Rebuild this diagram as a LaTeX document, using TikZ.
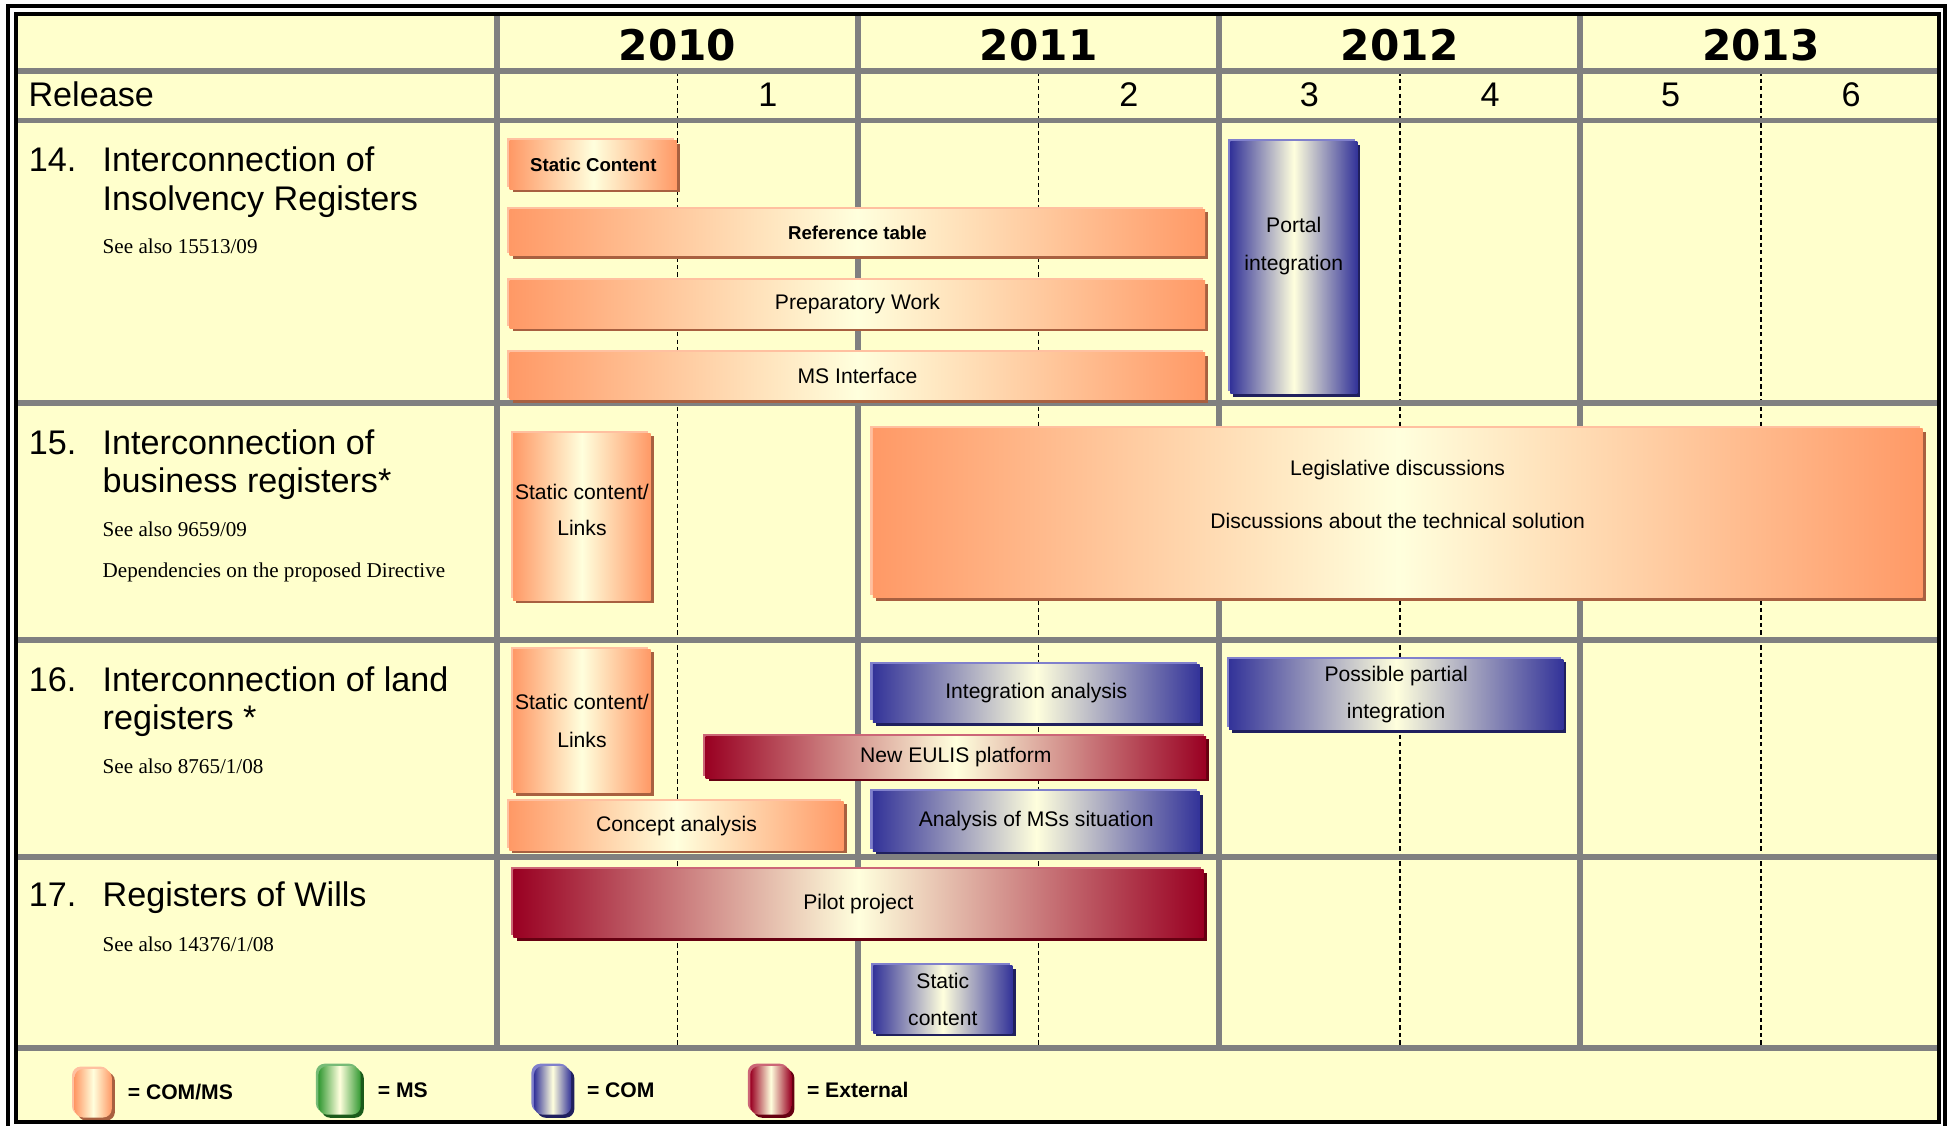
\documentclass[tikz,border=0pt]{standalone}
\usepackage{fontspec}
\setmainfont{Liberation Sans}
\newfontfamily\refserif{Liberation Serif}
\newfontfamily\yearsans{DejaVu Sans}
\usepackage{tikz}
\usetikzlibrary{shadows}
\definecolor{chartbg}{HTML}{FFFFCC}
\definecolor{gridgray}{HTML}{808080}
\definecolor{cream}{HTML}{FFFFDD}
\definecolor{comms}{HTML}{FF9966}
\definecolor{commslight}{HTML}{FFC0A0}
\definecolor{commsdark}{HTML}{A86040}
\definecolor{com}{HTML}{333399}
\definecolor{comlight}{HTML}{8080CC}
\definecolor{comdark}{HTML}{20205E}
\definecolor{ext}{HTML}{990022}
\definecolor{extlight}{HTML}{CC6677}
\definecolor{extdark}{HTML}{660011}
\definecolor{ms}{HTML}{339933}
\definecolor{mslight}{HTML}{77BB77}
\definecolor{msdark}{HTML}{1A5A1A}
\tikzset{
  gridline/.style={draw=gridgray,line width=4.8pt},
  halfline/.style={draw=black,line width=1.2pt,dash pattern=on 3.5pt off 2.5pt},
  yearlabel/.style={anchor=base,font=\yearsans\bfseries\fontsize{34}{34}\selectfont},
  releaselabel/.style={anchor=base,inner sep=0pt,font=\fontsize{27.5}{30}\selectfont},
  rownum/.style={anchor=base west,inner sep=0pt,font=\fontsize{27.5}{31}\selectfont},
  rowtitle/.style={rownum,align=left},
  seealso/.style={anchor=base west,inner sep=0pt,align=left,font=\refserif\fontsize{17}{33}\selectfont},
  barsize/.style 2 args={minimum width=#1pt,minimum height=#2pt},
  taskbar/.style={inner sep=0pt,outer sep=0pt,align=center,font=\fontsize{17}{30}\selectfont,
    general shadow={fill=#1light,shadow xshift=-2pt,shadow yshift=2pt},
    general shadow={fill=#1dark,shadow xshift=2.5pt,shadow yshift=-2.5pt},
    left color=#1,right color=#1,middle color=cream},
  boldbar/.style={taskbar=#1,font=\bfseries\fontsize{15}{18}\selectfont},
  bartext/.style={align=center,inner sep=0pt},
  legendbox/.style={taskbar=#1,rounded corners=7pt},
  legendtext/.style={anchor=base west,inner sep=0pt,font=\bfseries\fontsize{17}{20}\selectfont}
}
\begin{document}
\begin{tikzpicture}[x=1pt,y=-1pt]
  \useasboundingbox (0,0) rectangle (1568,906);
  \fill[white] (0,0) rectangle (1568,906);
  \fill[chartbg] (13,11.3) rectangle (1561,903.5);
  % half year separators
  \foreach \x in {545.3,836,1126.7,1417.4}
    \draw[halfline] (\x,57.3) -- (\x,843.5);
  % grid
  \foreach \y in {57.3,97,324,515,690,843.5}
    \draw[gridline] (13,\y) -- (1561,\y);
  \foreach \x in {400,690.7,981.4,1272}
    \draw[gridline] (\x,11.3) -- (\x,843.5);
  % header
  \foreach \yr [count=\i from 0] in {2010,2011,2012,2013}
    \node[yearlabel] (year\yr) at (545.3+290.7*\i,48.3) {\yr};
  \node[releaselabel,anchor=base west] (release) at (22.8,86) {Release};
  \foreach \n/\x in {1/618,2/908.7,3/1054,4/1199.4,5/1344.7,6/1490}
    \node[releaselabel] (rel\n) at (\x,86) {\n};
  % row labels (multi-line nodes sit on their last line)
  \node[rownum] (num14) at (23,138.2) {14.};
  \node[rowtitle] (title14) at (82.5,169.4) {Interconnection of\\Insolvency Registers};
  \node[seealso] (ref14) at (82.5,204) {See also 15513/09};
  \node[rownum] (num15) at (23,365.8) {15.};
  \node[rowtitle] (title15) at (82.5,396.8) {Interconnection of\\business registers*};
  \node[seealso] (ref15) at (82.5,464.7) {See also 9659/09\\Dependencies on the proposed Directive};
  \node[rownum] (num16) at (23,556.3) {16.};
  \node[rowtitle] (title16) at (82.5,587.3) {Interconnection of land\\registers *};
  \node[seealso] (ref16) at (82.5,622.2) {See also 8765/1/08};
  \node[rownum] (num17) at (23,729.6) {17.};
  \node[rowtitle] (title17) at (82.5,729.6) {Registers of Wills};
  \node[seealso] (ref17) at (82.5,766) {See also 14376/1/08};
  % row 14
  \node[boldbar=comms,barsize={134.6}{39}] (static14) at (477.6,132.8) {Static Content};
  \node[boldbar=comms,barsize={559.8}{37.6}] (reftable) at (690.2,187.2) {Reference table};
  \node[taskbar=comms,barsize={559.8}{38.2}] (prepwork) at (690.2,245.1) {Preparatory Work};
  \node[taskbar=comms,barsize={559.8}{38.3}] (msiface) at (690.2,302.8) {MS Interface};
  \node[taskbar=com,barsize={102.2}{202.7}] (portal) at (1041.4,215.5) {};
  \node[bartext,font=\fontsize{17}{30}\selectfont] (portaltext) at (1041.4,198) {Portal\\integration};
  % row 15
  \node[taskbar=comms,barsize={110.7}{134.4}] (static15) at (468.4,415.9) {};
  \node[bartext,font=\fontsize{17}{29.5}\selectfont] (static15text) at (468.4,410.5) {Static content/\\Links};
  \node[taskbar=comms,barsize={845}{136}] (legis) at (1125,413) {};
  \node[bartext,font=\fontsize{17}{42}\selectfont] (legistext) at (1125,398) {Legislative discussions\\Discussions about the technical solution};
  % row 16
  \node[taskbar=comms,barsize={110.7}{115.5}] (static16) at (468.4,580.3) {Static content/\\Links};
  \node[taskbar=com,barsize={263}{47}] (integration) at (834.1,558.1) {Integration analysis};
  \node[taskbar=ext,barsize={403}{34}] (eulis) at (769.4,609.5) {New EULIS platform};
  \node[taskbar=comms,barsize={269}{39.5}] (concept) at (544.5,664.5) {Concept analysis};
  \node[taskbar=com,barsize={263}{47.7}] (msanalysis) at (834.1,661.2) {Analysis of MSs situation};
  \node[taskbar=com,barsize={269}{57}] (partial) at (1123.8,559) {Possible partial\\integration};
  % row 17
  \node[taskbar=ext,barsize={555.5}{54.5}] (pilot) at (691,727.5) {Pilot project};
  \node[taskbar=com,barsize={112}{54.5}] (static17) at (758.9,804.5) {Static\\content};
  % legend
  \node[legendbox=comms,barsize={30}{39}] (keycomms) at (75,880) {};
  \node[legendtext] (keycommstext) at (102.7,884.7) {= COM/MS};
  \node[legendbox=ms,barsize={34}{39}] (keyms) at (273.3,877.7) {};
  \node[legendtext] (keymstext) at (304,883) {= MS};
  \node[legendbox=com,barsize={30}{39}] (keycom) at (444.8,877.7) {};
  \node[legendtext] (keycomtext) at (472.3,883) {= COM};
  \node[legendbox=ext,barsize={33}{39}] (keyext) at (620.4,877.7) {};
  \node[legendtext] (keyexttext) at (649.4,883) {= External};
  % frames
  \draw[line width=3.2pt] (13,11.3) rectangle (1561,903.5);
  \draw[line width=3.2pt] (6.4,4.8) rectangle (1565.6,912);
\end{tikzpicture}
\end{document}
